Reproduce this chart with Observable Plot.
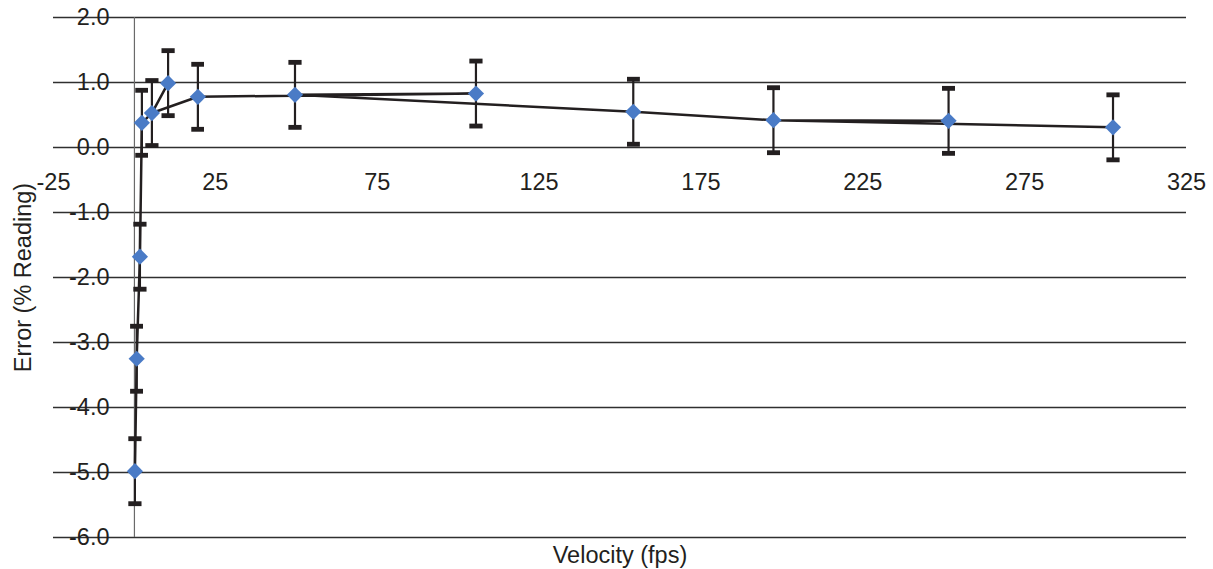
<!DOCTYPE html>
<html>
<head>
<meta charset="utf-8">
<script src="https://cdn.jsdelivr.net/npm/d3@7"></script>
<script src="https://cdn.jsdelivr.net/npm/@observablehq/plot@0.6"></script>
<style>
  html, body { margin: 0; padding: 0; background: #fff; }
  svg { display: block; }
</style>
</head>
<body>
<div id="chart"></div>
<script>
// Data
const velocity = [0.15, 0.7, 1.7, 2.3, 5.4, 10.4, 19.6, 49.6, 105.5, 154.1, 197.4, 251.5, 302.3];
const errorPct = [-4.98, -3.25, -1.68, 0.38, 0.53, 0.99, 0.78, 0.81, 0.83, 0.55, 0.42, 0.41, 0.31];
const errorBar = [0.5, 0.5, 0.5, 0.5, 0.5, 0.5, 0.5, 0.5, 0.5, 0.5, 0.5, 0.5, 0.5];
// order in which the connecting line visits the points (as in the source workbook)
const lineOrder = [0, 1, 2, 3, 4, 5, 4, 6, 8, 7, 9, 10, 11, 10, 12];
const xTicks = [-25, 25, 75, 125, 175, 225, 275, 325];
const yTicks = [2, 1, 0, -1, -2, -3, -4, -5, -6];

const points = velocity.map((v, i) => ({v, e: errorPct[i], bar: errorBar[i]}));
const path = lineOrder.map(i => points[i]);

const ink = "#231f20";
const font = "Liberation Sans, Arial, sans-serif";
const fs = 23.5;

const chart = Plot.plot({
  width: 1213,
  height: 569,
  marginLeft: 53,
  marginRight: 27,
  marginTop: 17,
  marginBottom: 32,
  style: {fontFamily: font, fontSize: fs + "px", color: ink, background: "#fff"},
  x: {domain: [-25, 325], axis: null},
  y: {domain: [-6, 2], axis: null},
  marks: [
    Plot.ruleY(yTicks, {stroke: "#2f2f2f", strokeWidth: 1.4}),
    Plot.ruleX([0], {y1: -6, y2: 2, stroke: "#6a6a6a", strokeWidth: 1.2}),
    Plot.text(yTicks, {y: d => d, text: d => d.toFixed(1), frameAnchor: "left", textAnchor: "end", dx: 56, fill: ink, fontSize: fs}),
    Plot.text(xTicks, {x: d => d, y: 0, text: d => String(d), dy: 35, fill: ink, fontSize: fs}),
    Plot.link(points, {x1: "v", x2: "v", y1: d => d.e - d.bar, y2: d => d.e + d.bar,
      stroke: ink, strokeWidth: 2.2, markerStart: "tick", markerEnd: "tick"}),
    Plot.line(path, {x: "v", y: "e", stroke: ink, strokeWidth: 2.5, curve: "linear"}),
    Plot.dot(points, {x: "v", y: "e", symbol: "diamond2", r: 7.3, fill: "#4a7bc6", stroke: "none"}),
    Plot.text(["Velocity (fps)"], {frameAnchor: "bottom", dy: 25, text: d => d, fill: ink, fontSize: fs}),
    Plot.text(["Error (% Reading)"], {frameAnchor: "left", textAnchor: "middle", dx: -30, rotate: -90, text: d => d, fill: ink, fontSize: fs})
  ]
});
document.getElementById("chart").appendChild(chart);
</script>
</body>
</html>
